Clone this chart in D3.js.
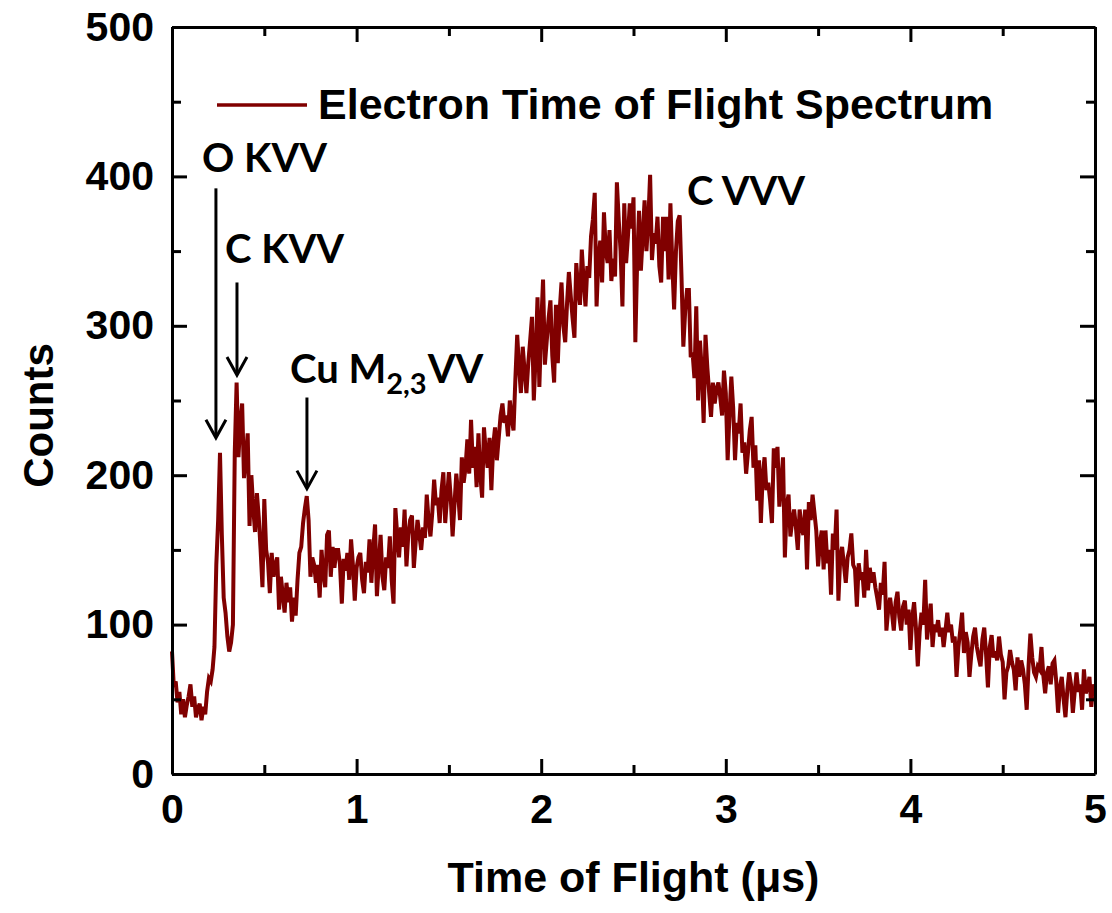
<!DOCTYPE html>
<html>
<head>
<meta charset="utf-8">
<script src="https://cdn.jsdelivr.net/npm/d3@7"></script>
<style>
  html, body { margin: 0; padding: 0; background: #fff; }
  svg { display: block; }
</style>
</head>
<body>
<svg id="chart" width="1112" height="913"></svg>
<script>
// ---------------- data ----------------
const tStart = 0.0;      // μs
const tStep = 0.01;      // μs sampling of the spectrum
const counts = [
  82, 58, 62, 48, 55, 40, 50, 38, 46, 52,
  60, 45, 52, 38, 44, 47, 36, 45, 40, 55,
  64, 62, 70, 85, 140, 170, 215, 160, 118, 108,
  92, 82, 88, 100, 215, 262, 212, 236, 248, 198,
  212, 228, 166, 200, 178, 162, 188, 172, 150, 125,
  184, 150, 142, 121, 148, 132, 140, 145, 110, 132,
  120, 108, 128, 115, 125, 102, 118, 106, 130, 148,
  152, 168, 178, 186, 170, 132, 145, 140, 128, 140,
  118, 150, 134, 125, 160, 163, 132, 152, 138, 150,
  150, 140, 114, 144, 136, 148, 130, 157, 140, 116,
  138, 145, 148, 130, 121, 142, 135, 157, 128, 150,
  167, 119, 140, 160, 132, 123, 145, 138, 159, 130,
  114, 178, 160, 145, 165, 152, 177, 139, 160, 170,
  173, 138, 155, 170, 160, 150, 165, 158, 187, 170,
  159, 175, 197, 180, 185, 168, 190, 202, 168, 185,
  202, 185, 159, 180, 201, 188, 170, 212, 195, 205,
  224, 201, 237, 205, 219, 192, 228, 200, 185, 232,
  215, 205, 225, 190, 220, 232, 210, 225, 240, 248,
  235, 240, 226, 250, 238, 230, 264, 294, 272, 255,
  286, 270, 255, 275, 290, 306, 250, 280, 319, 259,
  300, 331, 274, 290, 305, 317, 280, 262, 314, 275,
  310, 329, 300, 289, 315, 336, 320, 305, 292, 342,
  325, 314, 351, 330, 313, 340, 332, 360, 371, 389,
  313, 345, 357, 329, 376, 350, 342, 364, 330, 345,
  333, 396, 371, 350, 313, 382, 342, 360, 382, 365,
  386, 289, 344, 377, 337, 360, 384, 350, 370, 401,
  344, 362, 355, 373, 340, 329, 373, 350, 373, 331,
  382, 342, 311, 350, 370, 374, 333, 286, 310, 324,
  324, 279, 282, 265, 313, 250, 290, 270, 235, 294,
  272, 255, 239, 262, 248, 258, 262, 252, 240, 270,
  255, 210, 240, 266, 245, 210, 235, 228, 248, 215,
  222, 201, 215, 230, 239, 205, 220, 183, 210, 168,
  200, 212, 190, 195, 183, 168, 218, 205, 219, 179,
  195, 212, 145, 180, 187, 159, 170, 177, 165, 150,
  177, 165, 160, 177, 137, 182, 170, 187, 175, 163,
  139, 155, 163, 137, 163, 141, 150, 120, 161, 150,
  177, 116, 145, 152, 140, 128, 145, 150, 161, 140,
  137, 112, 141, 130, 135, 118, 150, 123, 138, 128,
  135, 125, 118, 110, 128, 120, 142, 96, 110, 118,
  108, 96, 115, 122, 105, 96, 112, 116, 100, 110,
  83, 105, 115, 98, 72, 95, 108, 100, 130, 90,
  102, 114, 85, 100, 95, 103, 92, 98, 85, 96,
  108, 95, 100, 88, 92, 65, 85, 96, 108, 81,
  95, 88, 65, 80, 92, 98, 85, 78, 72, 90,
  98, 80, 58, 85, 93, 78, 82, 76, 92, 80,
  75, 50, 68, 72, 83, 75, 70, 56, 78, 65,
  76, 70, 60, 43, 72, 94, 78, 68, 65, 72,
  70, 85, 66, 54, 68, 72, 60, 74, 76, 62,
  41, 58, 65, 50, 38, 56, 68, 60, 41, 55,
  68, 55, 60, 43, 70, 54, 58, 65, 45, 60,
  52
];
const seriesName = "Electron Time of Flight Spectrum";
const xTicks = [0, 1, 2, 3, 4, 5];
const xMinorTicks = [0.5, 1.5, 2.5, 3.5, 4.5];
const yTicks = [0, 100, 200, 300, 400, 500];
const yMinorTicks = [50, 150, 250, 350, 450];
const xTitle = "Time of Flight (\u03BCs)";
const yTitle = "Counts";

// annotations (data units): label anchor and arrow from/to
const annLabels = [
  { text: "O KVV", t: 0.163, v: 403 },
  { text: "C KVV", t: 0.287, v: 342 },
  { text: "Cu M", sub: "2,3", after: "VV", t: 0.639, v: 262 },
  { text: "C VVV", t: 2.79, v: 381 }
];
const annArrows = [
  { t: 0.238, v0: 392, v1: 225 },
  { t: 0.352, v0: 329, v1: 267 },
  { t: 0.731, v0: 252, v1: 191 }
];

// ---------------- layout ----------------
const W = 1112, H = 913;
const m = { left: 172, top: 27, right: 17, bottom: 139 };
const iw = W - m.left - m.right;   // 923
const ih = H - m.top - m.bottom;   // 747
const lineColor = "#800000";
const axisFont = "'Liberation Sans', Arial, sans-serif";
const annFont = "Lato, 'Open Sans', sans-serif";

const svg = d3.select("#chart");
const g = svg.append("g").attr("transform", `translate(${m.left},${m.top})`);

const x = d3.scaleLinear().domain([0, 5]).range([0, iw]);
const y = d3.scaleLinear().domain([0, 500]).range([ih, 0]);

const data = counts.map((c, i) => ({ t: +(tStart + i * tStep).toFixed(3), c }));

// line
const line = d3.line().x(d => x(d.t)).y(d => y(d.c));
g.append("path")
  .datum(data)
  .attr("fill", "none")
  .attr("stroke", lineColor)
  .attr("stroke-width", 4)
  .attr("d", line);

// axes
function styleAxis(sel) {
  sel.selectAll("path.domain").attr("stroke", "#000").attr("stroke-width", 3);
  sel.selectAll(".tick line").attr("stroke", "#000").attr("stroke-width", 3);
  sel.selectAll("text")
    .attr("fill", "#000")
    .style("font-family", axisFont)
    .style("font-weight", "bold")
    .style("font-size", "41px");
}

const gxB = g.append("g").attr("transform", `translate(0,${ih})`)
  .call(d3.axisBottom(x).tickValues(xTicks).tickFormat(d3.format("d"))
    .tickSizeInner(-15).tickSizeOuter(0).tickPadding(20));
styleAxis(gxB);
const gxBm = g.append("g").attr("transform", `translate(0,${ih})`)
  .call(d3.axisBottom(x).tickValues(xMinorTicks).tickFormat("")
    .tickSizeInner(-9).tickSizeOuter(0));
styleAxis(gxBm);
gxBm.select("path.domain").remove();

const gxT = g.append("g")
  .call(d3.axisTop(x).tickValues(xTicks).tickFormat("")
    .tickSizeInner(-15).tickSizeOuter(0));
styleAxis(gxT);
const gxTm = g.append("g")
  .call(d3.axisTop(x).tickValues(xMinorTicks).tickFormat("")
    .tickSizeInner(-9).tickSizeOuter(0));
styleAxis(gxTm);
gxTm.select("path.domain").remove();

const gyL = g.append("g")
  .call(d3.axisLeft(y).tickValues(yTicks).tickFormat(d3.format("d"))
    .tickSizeInner(-15).tickSizeOuter(0).tickPadding(18));
styleAxis(gyL);
const gyLm = g.append("g")
  .call(d3.axisLeft(y).tickValues(yMinorTicks).tickFormat("")
    .tickSizeInner(-9).tickSizeOuter(0));
styleAxis(gyLm);
gyLm.select("path.domain").remove();

const gyR = g.append("g").attr("transform", `translate(${iw},0)`)
  .call(d3.axisRight(y).tickValues(yTicks).tickFormat("")
    .tickSizeInner(-15).tickSizeOuter(0));
styleAxis(gyR);
const gyRm = g.append("g").attr("transform", `translate(${iw},0)`)
  .call(d3.axisRight(y).tickValues(yMinorTicks).tickFormat("")
    .tickSizeInner(-9).tickSizeOuter(0));
styleAxis(gyRm);
gyRm.select("path.domain").remove();

// axis titles
svg.append("text")
  .attr("x", m.left + iw / 2).attr("y", 892)
  .attr("text-anchor", "middle")
  .style("font-family", axisFont).style("font-weight", "bold").style("font-size", "43px")
  .text(xTitle);
svg.append("text")
  .attr("transform", `translate(53,${m.top + ih / 2 + 15}) rotate(-90)`)
  .attr("text-anchor", "middle")
  .style("font-family", axisFont).style("font-weight", "bold").style("font-size", "42px")
  .text(yTitle);

// legend
svg.append("line")
  .attr("x1", 217).attr("x2", 307).attr("y1", 105).attr("y2", 105)
  .attr("stroke", lineColor).attr("stroke-width", 3.6);
svg.append("text")
  .attr("x", 318).attr("y", 119)
  .style("font-family", axisFont).style("font-weight", "bold").style("font-size", "43px")
  .text(seriesName);

// annotations
annLabels.forEach(a => {
  const tx = g.append("text")
    .attr("x", x(a.t)).attr("y", y(a.v))
    .style("font-family", annFont).style("font-weight", "bold").style("font-size", "40px")
    .attr("fill", "#000");
  tx.append("tspan").text(a.text);
  if (a.sub) {
    tx.append("tspan").attr("dy", 11).style("font-size", "29px").text(a.sub);
    tx.append("tspan").attr("dy", -11).attr("dx", 1).text(a.after);
  }
});
annArrows.forEach(a => {
  const px = x(a.t), p0 = y(a.v0), p1 = y(a.v1);
  g.append("line").attr("x1", px).attr("x2", px).attr("y1", p0).attr("y2", p1 - 1)
    .attr("stroke", "#000").attr("stroke-width", 3);
  g.append("path")
    .attr("d", `M${px - 10},${p1 - 18} L${px},${p1} L${px + 10},${p1 - 18}`)
    .attr("fill", "none").attr("stroke", "#000").attr("stroke-width", 3);
});
</script>
</body>
</html>
